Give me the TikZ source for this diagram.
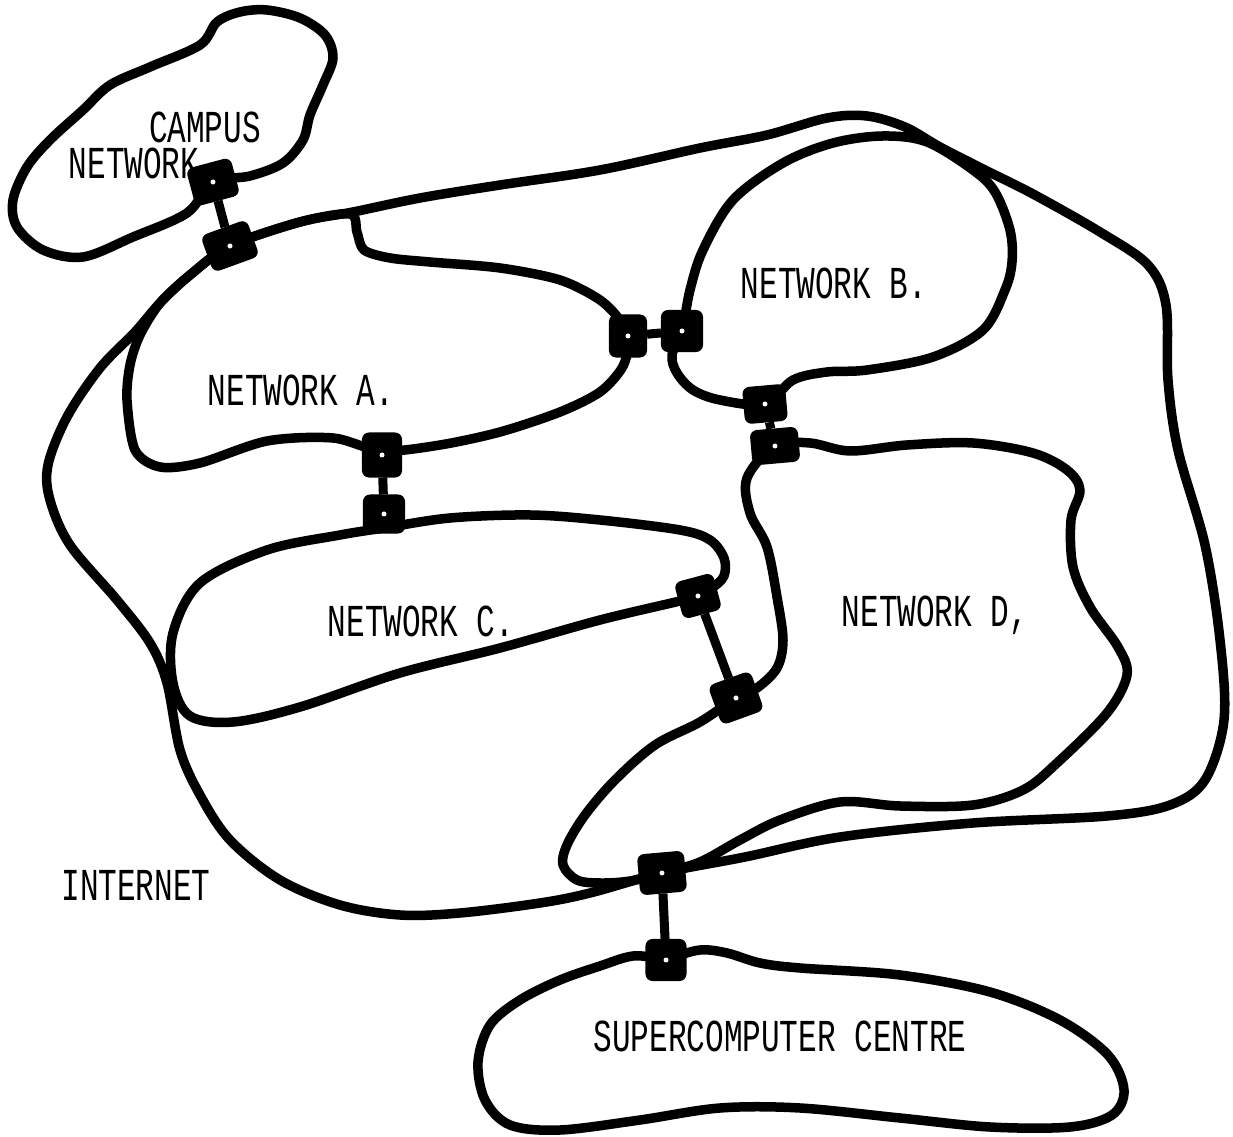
\documentclass[tikz,border=0pt]{standalone}
\usepackage{fontspec}
\newfontfamily\lettering[FakeStretch=0.68]{Liberation Mono}
\begin{document}
\begin{tikzpicture}[x=0.01cm,y=-0.01cm,
  blob/.style={line width=0.095cm, line join=round, line cap=round},
  link/.style={line width=0.09cm},
  gw/.style={draw=black, fill=black, rounded corners=0.06cm, inner sep=0pt,
    line width=0.02cm,
    path picture={\fill[white] (path picture bounding box.center) circle (0.025cm);}},
  lbl/.style={font=\lettering\fontsize{13}{15}\selectfont, inner sep=0pt,
    text height=0.3cm, text depth=0pt}]
\useasboundingbox[fill=white] (0,0) rectangle (1233,1137);

% Campus network
\draw[blob] plot[smooth cycle, tension=0.55] coordinates {
  (213,182) (187,213) (133,237) (83,257) (43,250) (17,227) (13,200) (27,167)
  (50,140) (83,110) (110,85) (150,67) (200,45) (217,22) (240,12) (267,10)
  (300,18) (325,35) (333,58) (323,85) (310,115) (303,140) (283,163) (250,176)};

% Internet
\draw[blob] plot[smooth cycle, tension=0.55] coordinates {
  (230,246) (300,222) (353,212) (420,198) (500,185) (600,170) (700,148)
  (767,135) (827,118) (867,116) (905,127) (940,147) (985,170) (1033,194)
  (1100,232) (1148,265) (1166,305) (1168,380) (1178,450) (1205,545)
  (1220,640) (1224,720) (1205,780) (1170,805) (1107,816) (973,823)
  (840,837) (745,857) (662,873) (590,893) (540,903) (460,913) (400,915)
  (340,905) (280,880) (230,840) (200,795) (180,750) (167,683) (150,643)
  (117,600) (70,545) (50,500) (48,465) (67,417) (100,368) (135,332)
  (160,303) (190,275)};

% Network A
\draw[blob] plot[smooth cycle, tension=0.5] coordinates {
  (230,246) (300,222) (350,214) (357,232) (364,250) (390,258) (430,262)
  (500,268) (560,280) (600,300) (621,322) (628,345) (622,368) (600,392)
  (560,412) (500,432) (440,445) (382,451) (333,438) (267,441) (200,463)
  (160,467) (135,450) (127,400) (130,365) (140,335) (160,303) (190,275)};

% Network B
\draw[blob] plot[smooth cycle, tension=0.55] coordinates {
  (682,331) (690,290) (703,250) (733,200) (783,163) (833,143) (883,136)
  (927,142) (973,170) (995,192) (1010,230) (1012,262) (1005,290) (983,330)
  (933,357) (867,370) (827,372) (793,380) (765,404) (720,400) (693,390)
  (677,373) (672,355)};

% Network C
\draw[blob] plot[smooth cycle, tension=0.55] coordinates {
  (384,528) (450,518) (530,515) (600,520) (680,530) (710,540) (724,558)
  (724,576) (712,588) (698,596) (680,601) (600,620) (500,648) (400,673)
  (300,707) (233,722) (190,716) (173,683) (173,633) (200,583) (267,550)
  (340,535)};

% Network D
\draw[blob] plot[smooth cycle, tension=0.55] coordinates {
  (775,446) (810,443) (850,451) (907,445) (973,443) (1033,453) (1067,470)
  (1080,490) (1071,520) (1073,567) (1090,607) (1118,647) (1127,675)
  (1107,713) (1057,763) (1023,790) (973,805) (900,806) (840,802) (780,820)
  (740,840) (700,862) (662,873) (630,881) (600,883) (577,880) (563,865)
  (567,845) (585,815) (615,780) (655,745) (700,722) (736,698) (757,688)
  (777,668) (783,640) (777,597) (767,547) (750,513) (747,478)};

% Supercomputer centre
\draw[blob] plot[smooth cycle, tension=0.55] coordinates {
  (666,958) (700,950) (727,953) (760,963) (800,968) (900,975) (990,992)
  (1060,1020) (1108,1055) (1124,1090) (1112,1115) (1070,1127) (990,1127)
  (900,1118) (800,1108) (720,1108) (640,1120) (560,1130) (510,1125)
  (485,1100) (478,1062) (490,1025) (520,1000) (560,980) (600,966) (633,956)};

% Gateways
\node[gw, minimum width=0.44cm, minimum height=0.37cm, rotate=15] (g1) at (213,182) {};
\node[gw, minimum width=0.47cm, minimum height=0.37cm, rotate=20] (g2) at (230,246) {};
\node[gw, minimum width=0.36cm, minimum height=0.41cm] (g3) at (628,336) {};
\node[gw, minimum width=0.40cm, minimum height=0.40cm] (g4) at (682,331) {};
\node[gw, minimum width=0.41cm, minimum height=0.35cm, rotate=5] (g5) at (765,404) {};
\node[gw, minimum width=0.46cm, minimum height=0.33cm, rotate=5] (g6) at (775,446) {};
\node[gw, minimum width=0.38cm, minimum height=0.43cm] (g7) at (382,455) {};
\node[gw, minimum width=0.40cm, minimum height=0.37cm] (g8) at (384,514) {};
\node[gw, minimum width=0.38cm, minimum height=0.36cm, rotate=15] (g9) at (698,596) {};
\node[gw, minimum width=0.43cm, minimum height=0.40cm, rotate=20] (g10) at (736,698) {};
\node[gw, minimum width=0.45cm, minimum height=0.39cm, rotate=5] (g11) at (662,873) {};
\node[gw, minimum width=0.39cm, minimum height=0.40cm] (g12) at (666,960) {};

% Links between gateways
\draw[link] (g1) -- (g2);
\draw[link] (g3) -- (g4);
\draw[link] (g5) -- (g6);
\draw[link] (g7) -- (g8);
\draw[link] (g9) -- (g10);
\draw[link] (g11) -- (g12);

% Labels
\node[lbl] (tcampus) at (205,127) {CAMPUS};
\node[lbl] (tcampusnet) at (134,163) {NETWORK};
\node[lbl] (ta) at (301,390) {NETWORK A.};
\node[lbl] (tb) at (834,283) {NETWORK B.};
\node[lbl] (tc) at (421,621) {NETWORK C.};
\node[lbl] (td) at (935,611) {NETWORK D,};
\node[lbl] (tinet) at (136,885) {INTERNET};
\node[lbl] (tsuper) at (780,1036) {SUPERCOMPUTER CENTRE};
\end{tikzpicture}
\end{document}
